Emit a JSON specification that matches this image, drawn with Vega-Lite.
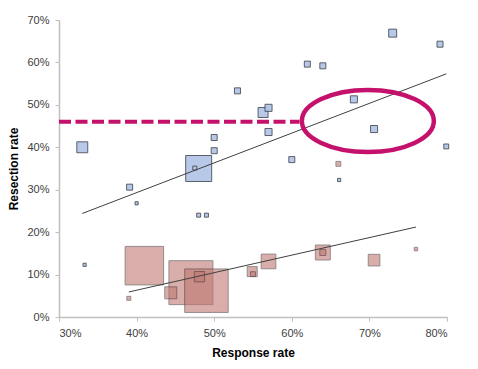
{
  "$schema": "https://vega.github.io/schema/vega-lite/v6.json",
  "width": 388,
  "height": 297,
  "autosize": {"type": "none"},
  "padding": {"left": 59, "top": 20, "right": 31, "bottom": 52},
  "background": "white",
  "config": {
    "view": {"stroke": null},
    "axis": {
      "grid": false,
      "domainColor": "#bfbfbf",
      "domainWidth": 1.5,
      "tickColor": "#bfbfbf",
      "tickSize": 4,
      "labelFont": "Liberation Sans",
      "labelFontSize": 11,
      "labelColor": "#404040",
      "titleFont": "Liberation Sans",
      "titleFontSize": 12,
      "titleFontWeight": "bold",
      "titleColor": "#000000"
    }
  },
  "datasets": {
    "upper": [
      {"resp": 0.48, "res": 0.35, "n": 338},
      {"resp": 0.33, "res": 0.40, "n": 60},
      {"resp": 0.563, "res": 0.482, "n": 50},
      {"resp": 0.57, "res": 0.493, "n": 25},
      {"resp": 0.57, "res": 0.436, "n": 25},
      {"resp": 0.50, "res": 0.423, "n": 18},
      {"resp": 0.50, "res": 0.392, "n": 18},
      {"resp": 0.53, "res": 0.533, "n": 18},
      {"resp": 0.60, "res": 0.371, "n": 18},
      {"resp": 0.475, "res": 0.351, "n": 8},
      {"resp": 0.48, "res": 0.24, "n": 8},
      {"resp": 0.49, "res": 0.24, "n": 8},
      {"resp": 0.391, "res": 0.306, "n": 18},
      {"resp": 0.40, "res": 0.268, "n": 5},
      {"resp": 0.333, "res": 0.123, "n": 5},
      {"resp": 0.73, "res": 0.669, "n": 32},
      {"resp": 0.791, "res": 0.643, "n": 18},
      {"resp": 0.62, "res": 0.596, "n": 18},
      {"resp": 0.64, "res": 0.592, "n": 18},
      {"resp": 0.68, "res": 0.513, "n": 25},
      {"resp": 0.706, "res": 0.443, "n": 25},
      {"resp": 0.799, "res": 0.402, "n": 12},
      {"resp": 0.661, "res": 0.323, "n": 5}
    ],
    "lower": [
      {"resp": 0.41, "res": 0.121, "n": 741},
      {"resp": 0.47, "res": 0.081, "n": 968},
      {"resp": 0.49, "res": 0.062, "n": 946},
      {"resp": 0.481, "res": 0.095, "n": 53},
      {"resp": 0.444, "res": 0.057, "n": 72},
      {"resp": 0.39, "res": 0.044, "n": 8},
      {"resp": 0.549, "res": 0.107, "n": 50},
      {"resp": 0.55, "res": 0.101, "n": 12},
      {"resp": 0.57, "res": 0.131, "n": 108},
      {"resp": 0.64, "res": 0.152, "n": 112},
      {"resp": 0.64, "res": 0.152, "n": 18},
      {"resp": 0.706, "res": 0.134, "n": 68},
      {"resp": 0.76, "res": 0.16, "n": 6},
      {"resp": 0.66, "res": 0.361, "n": 12}
    ],
    "trendUpper": [
      {"resp": 0.33, "res": 0.244},
      {"resp": 0.799, "res": 0.573}
    ],
    "trendLower": [
      {"resp": 0.39, "res": 0.059},
      {"resp": 0.76, "res": 0.212}
    ],
    "threshold": [
      {"resp": 0.30, "resp2": 0.61, "res": 0.46}
    ],
    "focus": [
      {"resp": 0.698, "res": 0.462}
    ]
  },
  "encoding": {
    "x": {
      "field": "resp",
      "type": "quantitative",
      "scale": {"domain": [0.3, 0.8], "nice": false, "zero": false},
      "axis": {
        "title": "Response rate",
        "format": ".0%",
        "values": [0.3, 0.4, 0.5, 0.6, 0.7, 0.8],
        "labelPadding": 6,
        "titlePadding": 9
      }
    },
    "y": {
      "field": "res",
      "type": "quantitative",
      "scale": {"domain": [0, 0.7], "nice": false},
      "axis": {
        "title": "Resection rate",
        "format": ".0%",
        "values": [0, 0.1, 0.2, 0.3, 0.4, 0.5, 0.6, 0.7],
        "labelPadding": 6,
        "titlePadding": 6
      }
    }
  },
  "layer": [
    {
      "data": {"name": "lower"},
      "mark": {"type": "point", "shape": "square", "filled": true, "color": "#c07873", "opacity": 0.6, "stroke": "#3a2a2a", "strokeWidth": 1, "strokeOpacity": 0.85},
      "encoding": {
        "size": {"field": "n", "type": "quantitative", "scale": {"domain": [0, 1000], "range": [0, 2000]}, "legend": null}
      }
    },
    {
      "data": {"name": "upper"},
      "mark": {"type": "point", "shape": "square", "filled": true, "color": "#b4c6e7", "opacity": 0.95, "stroke": "#3a3f4a", "strokeWidth": 1, "strokeOpacity": 0.85},
      "encoding": {
        "size": {"field": "n", "type": "quantitative", "scale": {"domain": [0, 1000], "range": [0, 2000]}, "legend": null}
      }
    },
    {
      "data": {"name": "trendUpper"},
      "mark": {"type": "line", "color": "#404040", "strokeWidth": 1},
      "encoding": {}
    },
    {
      "data": {"name": "trendLower"},
      "mark": {"type": "line", "color": "#404040", "strokeWidth": 1},
      "encoding": {}
    },
    {
      "data": {"name": "threshold"},
      "mark": {"type": "rule", "color": "#c4126c", "strokeWidth": 4, "strokeDash": [12, 4.5]},
      "encoding": {"x2": {"field": "resp2"}}
    },
    {
      "data": {"name": "focus"},
      "mark": {"type": "point", "shape": "M -1 0 A 1 0.47 0 1 1 1 0 A 1 0.47 0 1 1 -1 0 Z", "filled": false, "size": 17424, "color": "#c4126c", "strokeWidth": 4.5, "opacity": 1},
      "encoding": {}
    }
  ]
}
